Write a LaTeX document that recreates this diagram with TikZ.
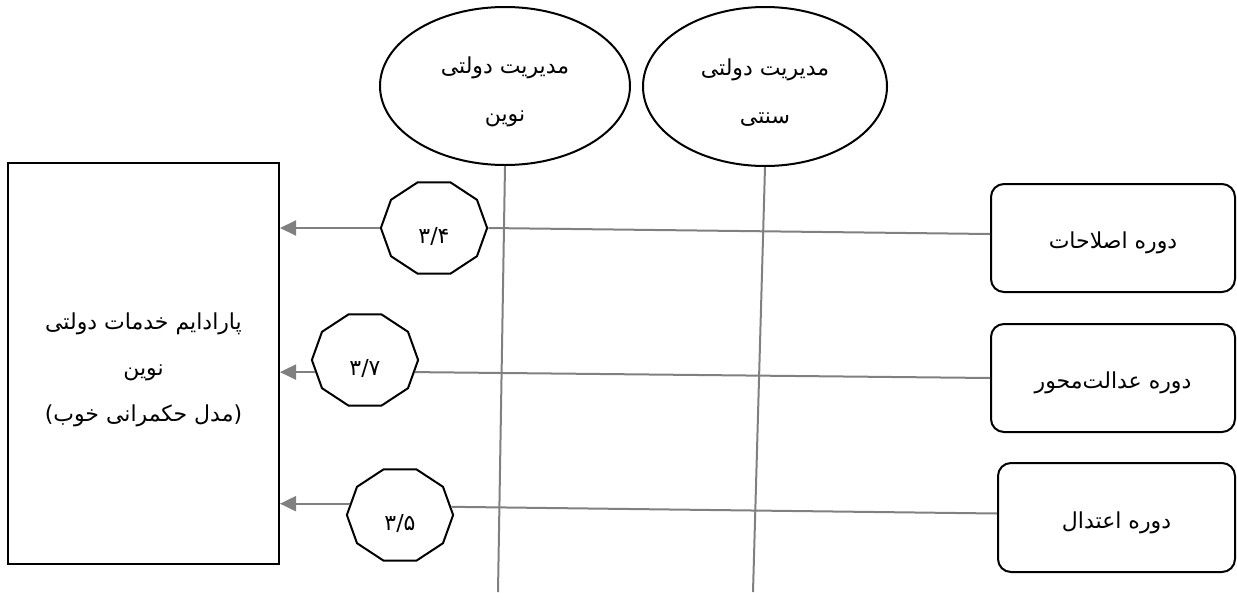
\documentclass[tikz,border=0pt]{standalone}
\usepackage{fontspec}
\newfontfamily\arabicfont[Script=Arabic]{DejaVu Sans}
\newfontfamily\plainfont{DejaVu Sans}
\TeXXeTstate=1
\usetikzlibrary{shapes.geometric,arrows.meta}
\begin{document}
\begin{tikzpicture}[x=1pt,y=-1pt,
  txt/.style={font=\arabicfont\fontsize{22}{46}\selectfont, align=center, inner sep=0pt},
  etxt/.style={font=\arabicfont\fontsize{22}{48}\selectfont, align=center, inner sep=0pt},
  bord/.style={draw=black, line width=2pt},
  deca/.style={bord, regular polygon, regular polygon sides=10, minimum size=96pt, inner sep=0pt, xscale=1.107, transform shape},
  conn/.style={draw=gray, line width=2pt},
  arr/.style={conn, -{Triangle[length=16pt,width=15pt]}},
  pbox/.style={bord, rectangle, rounded corners=13pt, minimum width=244pt, minimum height=108pt},
  ell/.style={bord, ellipse, inner sep=0pt}
]
\useasboundingbox (0,0) rectangle (1237,592);
\fill[white] (0,0) rectangle (1237,592);

% main box
\node[bord, minimum width=271pt, minimum height=401pt] (para) at (143.5,363.5) {};
\node[txt] (tpara) at (143.5,370)
  {\beginR پارادایم خدمات دولتی\endR\\ \beginR نوین\endR\\ {\plainfont(}\beginR مدل حکمرانی خوب\endR{\plainfont)}};

% ellipses
\node[ell, minimum width=250pt, minimum height=158pt] (e1) at (505,86) {};
\node[etxt] (te1) at (505,92) {\beginR مدیریت دولتی\endR\\ \beginR نوین\endR};
\node[ell, minimum width=244pt, minimum height=159pt] (e2) at (765,86.5) {};
\node[etxt] (te2) at (765,92.5) {\beginR مدیریت دولتی\endR\\ \beginR سنتی\endR};

% right boxes
\node[pbox] (b1) at (1113,238) {};
\node[txt] (tb1) at (1113,243) {\beginR دوره اصلاحات\endR};
\node[pbox] (b2) at (1113,378) {};
\node[txt] (tb2) at (1113,383) {\beginR دوره عدالت‌محور\endR};
\node[pbox, minimum width=237pt, minimum height=109pt] (b3) at (1116.5,517.5) {};
\node[txt] (tb3) at (1116.5,522.5) {\beginR دوره اعتدال\endR};

% decagons
\node[deca] (o1) at (434,228) {};
\node[deca] (o2) at (365,360) {};
\node[deca] (o3) at (400,515) {};
\node[txt] (l1) at (434,236) {۳/۴};
\node[txt] (l2) at (365,368) {۳/۷};
\node[txt] (l3) at (400,523) {۳/۵};

% connectors
\draw[conn] ([yshift=4pt]b1.west) -- (o1.east);
\draw[arr] (o1.west) -- (para.east |- o1.west);
\draw[conn] (b2.west) -- (o2.-15);
\draw[arr] (o2.-165) -- (para.east |- o2.-165);
\draw[conn] ([yshift=4pt]b3.west) -- (o3.10);
\draw[arr] (o3.166) -- (para.east |- o3.166);

\coordinate (v1) at (498,592);
\coordinate (v2) at (753,592);
\draw[conn] (e1.south) -- (v1);
\draw[conn] (e2.south) -- (v2);
\end{tikzpicture}
\end{document}
